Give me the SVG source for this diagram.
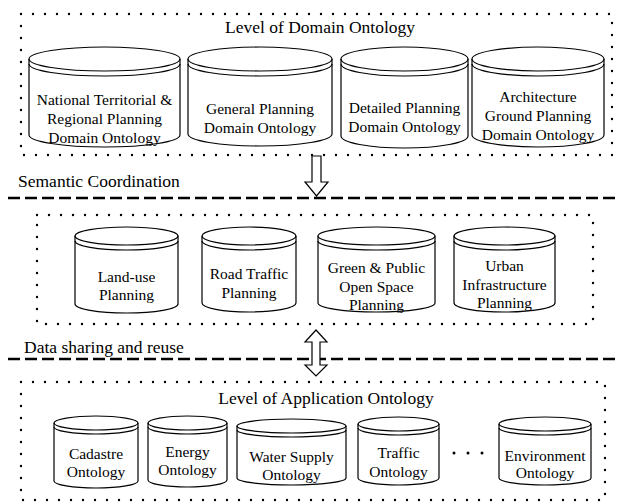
<svg xmlns="http://www.w3.org/2000/svg" width="618" height="504" viewBox="0 0 618 504" font-family="'Liberation Serif', 'DejaVu Serif', serif">
<style>
.dot{fill:none;stroke:#000;stroke-width:2.4;stroke-linecap:round;stroke-dasharray:0 12}
.dash{fill:none;stroke:#000;stroke-width:2.6;stroke-dasharray:12 5}
.cyl{fill:#fff;stroke:#000;stroke-width:1.2}
.arc{fill:none;stroke:#000;stroke-width:1.2}
.arr{fill:#fff;stroke:#000;stroke-width:1.2;stroke-linejoin:miter}
.lbl{font-family:'Liberation Serif','DejaVu Serif',serif;font-size:17.5px;fill:#000}
.t{font-family:'Liberation Serif','DejaVu Serif',serif;font-size:15.5px;text-anchor:middle;fill:#000}
</style>
<rect width="618" height="504" fill="#fff"/>
<g id="containers">
<rect class="dot" x="21" y="14" width="591" height="141"/>
<rect class="dot" x="37" y="215" width="556" height="109"/>
<rect class="dot" x="21" y="382" width="584" height="118"/>
</g>
<g id="connectors">
<line class="dash" x1="8" y1="198" x2="618" y2="198"/>
<line class="dash" x1="8" y1="359" x2="615" y2="359"/>
<polygon class="arr" points="312,156 321,156 321,182 328,182 316.5,196 305,182 312,182"/>
<polygon class="arr" points="316,330 327,342 320,342 320,365 327,365 316,376 305,365 312,365 312,342 305,342"/>
</g>
<g id="labels">
<text class="lbl" x="320" y="33" text-anchor="middle">Level of Domain Ontology</text>
<text class="lbl" x="18" y="187">Semantic Coordination</text>
<text class="lbl" x="24" y="353">Data sharing and reuse</text>
<text class="lbl" x="326" y="404" text-anchor="middle">Level of Application Ontology</text>
</g>
<g id="n-national">
<path class="cyl" d="M29,59 V135 A75.5,12 0 0 0 180,135 V59 A75.5,12 0 0 0 29,59 Z"/>
<path class="arc" d="M29,59 A75.5,12 0 0 0 180,59 M29,64 A75.5,12 0 0 0 180,64"/>
<text class="t" x="104.5" y="105">National Territorial &amp;</text>
<text class="t" x="104.5" y="124">Regional Planning</text>
<text class="t" x="104.5" y="143">Domain Ontology</text>
</g>
<g id="n-general">
<path class="cyl" d="M188,59 V134 A72,12 0 0 0 332,134 V59 A72,12 0 0 0 188,59 Z"/>
<path class="arc" d="M188,59 A72,12 0 0 0 332,59 M188,64 A72,12 0 0 0 332,64"/>
<text class="t" x="260" y="114">General Planning</text>
<text class="t" x="260" y="133">Domain Ontology</text>
</g>
<g id="n-detailed">
<path class="cyl" d="M341,59 V136 A63.5,12 0 0 0 468,136 V59 A63.5,12 0 0 0 341,59 Z"/>
<path class="arc" d="M341,59 A63.5,12 0 0 0 468,59 M341,64 A63.5,12 0 0 0 468,64"/>
<text class="t" x="404.5" y="113">Detailed Planning</text>
<text class="t" x="404.5" y="132">Domain Ontology</text>
</g>
<g id="n-architecture">
<path class="cyl" d="M472,59 V135 A66,12 0 0 0 604,135 V59 A66,12 0 0 0 472,59 Z"/>
<path class="arc" d="M472,59 A66,12 0 0 0 604,59 M472,64 A66,12 0 0 0 604,64"/>
<text class="t" x="538" y="102">Architecture</text>
<text class="t" x="538" y="121">Ground Planning</text>
<text class="t" x="538" y="140">Domain Ontology</text>
</g>
<g id="n-landuse">
<path class="cyl" d="M75,236 V304 A51.5,9 0 0 0 178,304 V236 A51.5,9 0 0 0 75,236 Z"/>
<path class="arc" d="M75,236 A51.5,9 0 0 0 178,236 M75,241 A51.5,9 0 0 0 178,241"/>
<text class="t" x="126.5" y="282">Land-use</text>
<text class="t" x="126.5" y="300">Planning</text>
</g>
<g id="n-road">
<path class="cyl" d="M202,236 V303 A47,9 0 0 0 296,303 V236 A47,9 0 0 0 202,236 Z"/>
<path class="arc" d="M202,236 A47,9 0 0 0 296,236 M202,241 A47,9 0 0 0 296,241"/>
<text class="t" x="249" y="279">Road Traffic</text>
<text class="t" x="249" y="298">Planning</text>
</g>
<g id="n-green">
<path class="cyl" d="M318,236 V303 A58.5,9 0 0 0 435,303 V236 A58.5,9 0 0 0 318,236 Z"/>
<path class="arc" d="M318,236 A58.5,9 0 0 0 435,236 M318,241 A58.5,9 0 0 0 435,241"/>
<text class="t" x="376.5" y="273">Green &amp; Public</text>
<text class="t" x="376.5" y="292">Open Space</text>
<text class="t" x="376.5" y="310">Planning</text>
</g>
<g id="n-urban">
<path class="cyl" d="M454,236 V303 A50.5,9 0 0 0 555,303 V236 A50.5,9 0 0 0 454,236 Z"/>
<path class="arc" d="M454,236 A50.5,9 0 0 0 555,236 M454,241 A50.5,9 0 0 0 555,241"/>
<text class="t" x="504.5" y="271">Urban</text>
<text class="t" x="504.5" y="290">Infrastructure</text>
<text class="t" x="504.5" y="308">Planning</text>
</g>
<g id="n-cadastre">
<path class="cyl" d="M54,423 V481 A42,7 0 0 0 138,481 V423 A42,7 0 0 0 54,423 Z"/>
<path class="arc" d="M54,423 A42,7 0 0 0 138,423 M54,427 A42,7 0 0 0 138,427"/>
<text class="t" x="96" y="459">Cadastre</text>
<text class="t" x="96" y="477">Ontology</text>
</g>
<g id="n-energy">
<path class="cyl" d="M148,423 V480 A39.5,7 0 0 0 227,480 V423 A39.5,7 0 0 0 148,423 Z"/>
<path class="arc" d="M148,423 A39.5,7 0 0 0 227,423 M148,427 A39.5,7 0 0 0 227,427"/>
<text class="t" x="187.5" y="457">Energy</text>
<text class="t" x="187.5" y="475">Ontology</text>
</g>
<g id="n-water">
<path class="cyl" d="M237,426 V478 A54.5,7 0 0 0 346,478 V426 A54.5,7 0 0 0 237,426 Z"/>
<path class="arc" d="M237,426 A54.5,7 0 0 0 346,426 M237,430 A54.5,7 0 0 0 346,430"/>
<text class="t" x="291.5" y="462">Water Supply</text>
<text class="t" x="291.5" y="480">Ontology</text>
</g>
<g id="n-traffic">
<path class="cyl" d="M358,424 V478 A40.5,7 0 0 0 439,478 V424 A40.5,7 0 0 0 358,424 Z"/>
<path class="arc" d="M358,424 A40.5,7 0 0 0 439,424 M358,428 A40.5,7 0 0 0 439,428"/>
<text class="t" x="398.5" y="458">Traffic</text>
<text class="t" x="398.5" y="477">Ontology</text>
</g>
<g id="ellipsis">
<circle cx="454" cy="453" r="1.5"/>
<circle cx="468" cy="453" r="1.5"/>
<circle cx="482" cy="453" r="1.5"/>
</g>
<g id="n-environment">
<path class="cyl" d="M499,424 V478 A46,7 0 0 0 591,478 V424 A46,7 0 0 0 499,424 Z"/>
<path class="arc" d="M499,424 A46,7 0 0 0 591,424 M499,428 A46,7 0 0 0 591,428"/>
<text class="t" x="545" y="461">Environment</text>
<text class="t" x="545" y="478">Ontology</text>
</g>
</svg>
